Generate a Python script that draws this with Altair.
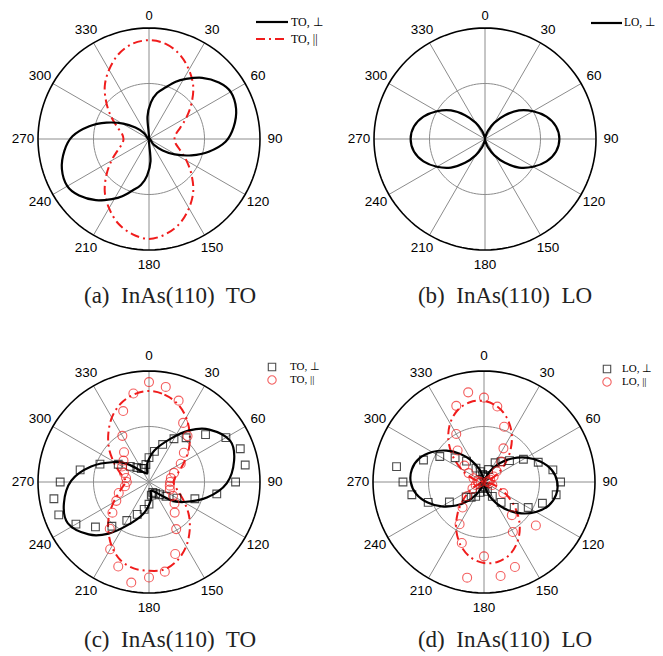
import altair as alt
import pandas as pd

# ---------------------------------------------------------------
# Values.
# Angles: degrees, clockwise from the top (0).  Radii: normalised so
# that the outer ring of each polar plot is 1.
# ---------------------------------------------------------------

# (a) InAs(110) TO - model curves
A_PERP_THETA = [0, -4, 3, 10, 18, 25, 31, 41, 51, 60, 71, 82, 92, 102, 111, 121, 130, 140,
                180, 176, 183, 190, 198, 205, 211, 221, 231, 240, 251, 262, 272, 282, 291, 301, 310, 320]
A_PERP_R = [0.0, 0.20, 0.33, 0.42, 0.49, 0.57, 0.63, 0.73, 0.81, 0.85, 0.83, 0.77, 0.69, 0.55, 0.41, 0.27, 0.16, 0.07,
            0.0, 0.20, 0.33, 0.42, 0.49, 0.57, 0.63, 0.73, 0.81, 0.85, 0.83, 0.77, 0.69, 0.55, 0.41, 0.27, 0.16, 0.07]
A_PAR_THETA = list(range(0, 360, 10))
A_PAR_R = [0.89, 0.87, 0.81, 0.72, 0.62, 0.50, 0.39, 0.30, 0.245, 0.23, 0.245, 0.30, 0.39, 0.50, 0.62, 0.72, 0.81, 0.87,
           0.90, 0.87, 0.81, 0.72, 0.62, 0.50, 0.39, 0.30, 0.245, 0.23, 0.245, 0.30, 0.39, 0.50, 0.62, 0.72, 0.81, 0.87]

# (b) InAs(110) LO - model curve
B_PERP_THETA = list(range(0, 360, 10))
B_PERP_R = [0.0, 0.02, 0.08, 0.17, 0.28, 0.40, 0.50, 0.59, 0.65, 0.67, 0.65, 0.59, 0.50, 0.40, 0.28, 0.17, 0.08, 0.02,
            0.0, 0.02, 0.08, 0.17, 0.28, 0.40, 0.50, 0.59, 0.65, 0.67, 0.65, 0.59, 0.50, 0.40, 0.28, 0.17, 0.08, 0.02]

# (c) InAs(110) TO - fitted curves and measured points
C_PERP_THETA = [350, 355, 10, 26, 38, 49, 63, 76, 91, 105, 120, 130, 149, 165,
                170, 175, 190, 206, 218, 229, 243, 256, 271, 285, 300, 310, 329, 345]
C_PERP_R = [0.09, 0.17, 0.29, 0.43, 0.59, 0.72, 0.82, 0.79, 0.70, 0.54, 0.36, 0.25, 0.105, 0.08,
            0.09, 0.17, 0.29, 0.43, 0.59, 0.72, 0.82, 0.79, 0.70, 0.54, 0.36, 0.25, 0.105, 0.08]
C_PAR_THETA = list(range(0, 360, 10))
C_PAR_R = [0.82, 0.80, 0.75, 0.67, 0.57, 0.47, 0.37, 0.29, 0.24, 0.22, 0.24, 0.29, 0.37, 0.47, 0.57, 0.67, 0.75, 0.80,
           0.80, 0.79, 0.75, 0.67, 0.57, 0.47, 0.37, 0.29, 0.24, 0.21, 0.23, 0.29, 0.37, 0.47, 0.57, 0.67, 0.75, 0.80]
C_PTS_THETA = list(range(0, 360, 10))
C_SQ_R = [0.22, 0.28, 0.36, 0.45, 0.52, 0.665, 0.80, 0.875, 0.88, 0.78, 0.62, 0.44, 0.29, 0.20, 0.15, 0.12, 0.10, 0.12,
          0.20, 0.25, 0.31, 0.40, 0.52, 0.63, 0.76, 0.865, 0.87, 0.80, 0.63, 0.47, 0.32, 0.22, 0.17, 0.14, 0.13, 0.16]
C_CI_R = [0.90, 0.87, 0.78, 0.615, 0.54, 0.41, 0.33, 0.24, 0.20, 0.19, 0.19, 0.20, 0.25, 0.30, 0.36, 0.49, 0.69, 0.82,
          0.86, 0.92, 0.81, 0.70, 0.55, 0.43, 0.34, 0.29, 0.22, 0.20, 0.21, 0.24, 0.28, 0.30, 0.35, 0.48, 0.68, 0.81]

# (d) InAs(110) LO - fitted curves and measured points
D_PERP_THETA = list(range(0, 360, 10))
D_PERP_R = [0.01, 0.01, 0.04, 0.12, 0.22, 0.33, 0.44, 0.54, 0.62, 0.66, 0.66, 0.62, 0.54, 0.44, 0.33, 0.22, 0.12, 0.04,
            0.01, 0.01, 0.04, 0.12, 0.22, 0.33, 0.44, 0.54, 0.62, 0.66, 0.66, 0.62, 0.54, 0.44, 0.33, 0.22, 0.12, 0.04]
D_PAR_THETA = list(range(0, 360, 10))
D_PAR_R = [0.73, 0.69, 0.61, 0.50, 0.37, 0.24, 0.13, 0.05, 0.01, 0.01, 0.05, 0.13, 0.24, 0.37, 0.50, 0.61, 0.69, 0.73,
           0.73, 0.69, 0.61, 0.50, 0.37, 0.24, 0.13, 0.05, 0.01, 0.01, 0.05, 0.13, 0.24, 0.37, 0.50, 0.61, 0.69, 0.73]
D_PTS_THETA = list(range(0, 360, 10))
D_SQ_R = [0.05, 0.06, 0.12, 0.20, 0.24, 0.30, 0.41, 0.52, 0.63, 0.69, 0.66, 0.56, 0.46, 0.355, 0.24, 0.15, 0.09, 0.05,
          0.04, 0.06, 0.10, 0.15, 0.18, 0.21, 0.36, 0.535, 0.66, 0.73, 0.80, 0.58, 0.46, 0.34, 0.245, 0.145, 0.10, 0.07]
D_CI_R = [0.76, 0.69, 0.53, 0.35, 0.24, 0.15, 0.10, 0.06, 0.04, 0.03, 0.05, 0.08, 0.20, 0.61, 0.39, 0.52, 0.815, 0.86,
          0.67, 0.875, 0.585, 0.44, 0.30, 0.20, 0.12, 0.08, 0.05, 0.03, 0.06, 0.10, 0.16, 0.23, 0.37, 0.50, 0.73, 0.82]

TICK_ANGLES = list(range(0, 360, 30))
RINGS = [0.5, 1.0]
CAPTIONS = ["(a)\u00a0 InAs(110)\u00a0 TO", "(b)\u00a0 InAs(110)\u00a0 LO",
            "(c)\u00a0 InAs(110)\u00a0 TO", "(d)\u00a0 InAs(110)\u00a0 LO"]

# ---------------------------------------------------------------
# Layout (page pixels) and styles
# ---------------------------------------------------------------
PANELS = ["a", "b", "c", "d"]
CX = {"a": 149, "b": 485, "c": 149, "d": 484}
CY = {"a": 139, "b": 139, "c": 482, "d": 482}
RADIUS_PX = 111.0
LABEL_R = 1.135
CAPTION_X = {"a": 170, "b": 505, "c": 170, "d": 505}
CAPTION_Y = {"a": 296, "b": 296, "c": 640, "d": 640}
RED = "#f01c1c"
DASH = [9, 4, 2, 4]


def rows(panel, series, thetas, radii):
    return [dict(panel=panel, series=series, key=panel + series, i=k, theta=t, r=r,
                 cx=CX[panel], cy=CY[panel])
            for k, (t, r) in enumerate(zip(thetas, radii))]


curves = pd.DataFrame(
    rows("a", "perp", A_PERP_THETA, A_PERP_R) + rows("a", "par", A_PAR_THETA, A_PAR_R)
    + rows("b", "perp", B_PERP_THETA, B_PERP_R)
    + rows("c", "perp", C_PERP_THETA, C_PERP_R) + rows("c", "par", C_PAR_THETA, C_PAR_R)
    + rows("d", "perp", D_PERP_THETA, D_PERP_R) + rows("d", "par", D_PAR_THETA, D_PAR_R)
)
points = pd.DataFrame(
    rows("c", "sq", C_PTS_THETA, C_SQ_R) + rows("c", "ci", C_PTS_THETA, C_CI_R)
    + rows("d", "sq", D_PTS_THETA, D_SQ_R) + rows("d", "ci", D_PTS_THETA, D_CI_R)
)

# grid rings (axis furniture) and spokes / tick labels
ring_rows = []
for p in PANELS:
    for ring in RINGS:
        for k, t in enumerate(range(0, 361, 3)):
            ring_rows.append(dict(panel=p, ring=ring, key=f"{p}{ring}", i=k, theta=t, r=ring,
                                  cx=CX[p], cy=CY[p]))
rings = pd.DataFrame(ring_rows)
spokes = pd.DataFrame([dict(panel=p, theta=t, r=0.0, r2=1.0, cx=CX[p], cy=CY[p], label=str(t))
                       for p in PANELS for t in TICK_ANGLES])

captions = pd.DataFrame([dict(text=c, x=CAPTION_X[p], y=CAPTION_Y[p]) for p, c in zip(PANELS, CAPTIONS)])

# legends (layout)
leg_lines = pd.DataFrame([
    dict(x=256, x2=288, y=22, kind="black"),
    dict(x=591, x2=622, y=23, kind="black"),
    dict(x=256, x2=288, y=39, kind="red"),
])
leg_text = pd.DataFrame([
    dict(x=291, y=22, text="TO, \u22a5", size=12), dict(x=291, y=39, text="TO, ||", size=12),
    dict(x=624, y=23, text="LO, \u22a5", size=11.5),
    dict(x=290, y=367, text="TO, \u22a5", size=11), dict(x=290, y=380, text="TO, ||", size=11),
    dict(x=622, y=369, text="LO, \u22a5", size=11), dict(x=622, y=382, text="LO, ||", size=11),
])
leg_marks = pd.DataFrame([
    dict(x=272, y=367, kind="sq"), dict(x=272, y=380, kind="ci"),
    dict(x=607, y=369, kind="sq"), dict(x=607, y=382, kind="ci"),
])

XS = alt.Scale(domain=[8, 655], nice=False, zero=False)
YS = alt.Scale(domain=[8, 656], nice=False, zero=False, reverse=True)


def px(field="x"):
    return alt.X(f"{field}:Q", scale=XS, axis=None)


def py(field="y"):
    return alt.Y(f"{field}:Q", scale=YS, axis=None)


POLAR_X = f"datum.cx + {RADIUS_PX} * datum.r * sin(datum.theta * PI / 180)"
POLAR_Y = f"datum.cy - {RADIUS_PX} * datum.r * cos(datum.theta * PI / 180)"

ring_base = alt.Chart(rings).transform_calculate(x=POLAR_X, y=POLAR_Y)
inner_ring = ring_base.transform_filter("datum.ring < 1").mark_line(
    color="#8c8c8c", strokeWidth=1).encode(x=px(), y=py(), detail="key:N", order="i:Q")
outer_ring = ring_base.transform_filter("datum.ring >= 1").mark_line(
    color="black", strokeWidth=1.6).encode(x=px(), y=py(), detail="key:N", order="i:Q")

spoke_layer = alt.Chart(spokes).transform_calculate(
    x=POLAR_X, y=POLAR_Y,
    x2=f"datum.cx + {RADIUS_PX} * datum.r2 * sin(datum.theta * PI / 180)",
    y2=f"datum.cy - {RADIUS_PX} * datum.r2 * cos(datum.theta * PI / 180)",
).mark_rule(color="#8c8c8c", strokeWidth=1).encode(x=px(), y=py(), x2="x2:Q", y2="y2:Q")

tick_base = alt.Chart(spokes).transform_calculate(
    x=f"datum.cx + {RADIUS_PX} * {LABEL_R} * sin(datum.theta * PI / 180)",
    y=f"datum.cy - {RADIUS_PX} * {LABEL_R} * cos(datum.theta * PI / 180)",
)
TOP_ZERO = "datum.theta == 0 && datum.cy < 300"
tick_layer = tick_base.transform_filter(f"!({TOP_ZERO})").mark_text(
    font="Liberation Sans", fontSize=13.5, color="black", align="center",
    baseline="middle").encode(x=px(), y=py(), text="label:N")
# the "0" labels of the top row sit against the page edge: nudge them down a little
tick_top = tick_base.transform_filter(TOP_ZERO).mark_text(
    font="Liberation Sans", fontSize=13, color="black", align="center",
    baseline="middle", dy=3).encode(x=px(), y=py(), text="label:N")

curve_base = alt.Chart(curves).transform_calculate(x=POLAR_X, y=POLAR_Y)
red_curves = curve_base.transform_filter("datum.series == 'par'").mark_line(
    color=RED, strokeWidth=2, strokeDash=DASH, interpolate="cardinal-closed").encode(
    x=px(), y=py(), detail="key:N", order="i:Q")
black_curves = curve_base.transform_filter("datum.series == 'perp'").mark_line(
    color="black", strokeWidth=2.2, interpolate="cardinal-closed").encode(
    x=px(), y=py(), detail="key:N", order="i:Q")

pts_base = alt.Chart(points).transform_calculate(x=POLAR_X, y=POLAR_Y)
sq_layer = pts_base.transform_filter("datum.series == 'sq'").mark_point(
    shape="square", filled=False, color="black", size=60, strokeWidth=1.1).encode(x=px(), y=py())
ci_layer = pts_base.transform_filter("datum.series == 'ci'").mark_point(
    shape="circle", filled=False, color=RED, size=80, strokeWidth=1.1).encode(x=px(), y=py())

leg_black = alt.Chart(leg_lines).transform_filter("datum.kind == 'black'").mark_rule(
    color="black", strokeWidth=2.2).encode(x=px(), x2="x2:Q", y=py())
leg_red = alt.Chart(leg_lines).transform_filter("datum.kind == 'red'").mark_rule(
    color=RED, strokeWidth=2, strokeDash=DASH).encode(x=px(), x2="x2:Q", y=py())
leg_txt = alt.Chart(leg_text).mark_text(font="Liberation Serif", align="left",
                                        baseline="middle", color="black").encode(
    x=px(), y=py(), text="text:N", size=alt.Size("size:Q", scale=None, legend=None))
leg_sq = alt.Chart(leg_marks).transform_filter("datum.kind == 'sq'").mark_point(
    shape="square", filled=False, color="black", size=55, strokeWidth=1.1).encode(x=px(), y=py())
leg_ci = alt.Chart(leg_marks).transform_filter("datum.kind == 'ci'").mark_point(
    shape="circle", filled=False, color=RED, size=70, strokeWidth=1.1).encode(x=px(), y=py())

cap_layer = alt.Chart(captions).mark_text(font="Liberation Serif", fontSize=23, align="center",
                                          baseline="middle", color="#222").encode(
    x=px(), y=py(), text="text:N")

chart = alt.layer(
    inner_ring, spoke_layer, outer_ring, tick_layer, tick_top,
    red_curves, black_curves, sq_layer, ci_layer,
    leg_black, leg_red, leg_txt, leg_sq, leg_ci, cap_layer,
).properties(
    width=647, height=648, padding=0, autosize=alt.AutoSizeParams(type="none"),
).configure_view(stroke=None)

chart.save("out.html", embed_options={"renderer": "svg", "actions": False})
